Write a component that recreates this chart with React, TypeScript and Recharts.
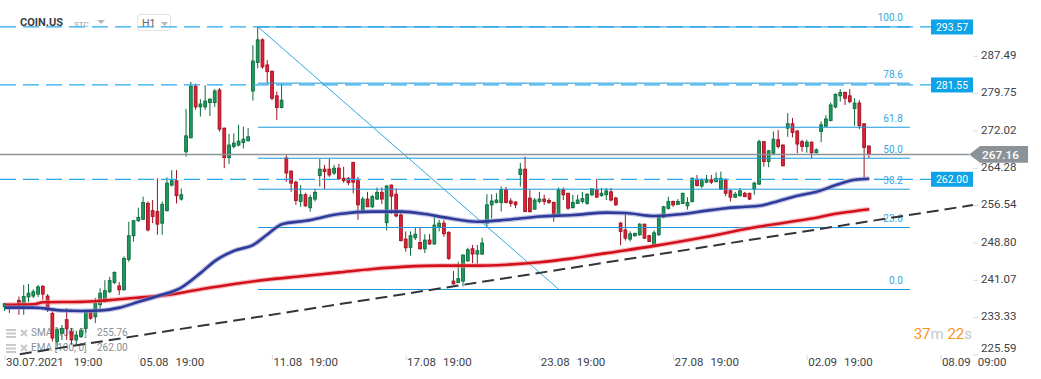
import React from 'react';
import { ComposedChart, Bar, Line, XAxis, YAxis, ReferenceLine } from 'recharts';

/* ── Candles, H1: [open, high, low, close] ─────────── */
const CANDLES: [number, number, number, number][] = [
  [235.6, 236.4, 234.7, 236.2], [236.1, 236.2, 234.3, 235.6], [235.6, 236.3, 235.1, 235.9], [236.9, 237.7, 233.9, 235.6],
  [235.6, 240.1, 233.9, 237.7], [237.6, 240.3, 236.6, 238.4], [237.8, 239.2, 237.4, 238.7], [238.2, 240.1, 237.6, 239.7],
  [239.8, 240.1, 237.0, 238.2], [237.8, 238.2, 234.5, 234.9], [234.2, 234.6, 228.4, 229.1], [228.4, 231.2, 227.3, 230.8],
  [230.1, 231.8, 228.7, 231.1], [232.9, 235.3, 228.7, 231.1], [230.4, 231.2, 227.7, 228.7], [228.7, 230.6, 227.7, 229.7],
  [229.4, 231.2, 229.1, 230.6], [231.1, 234.9, 230.2, 234.6], [234.6, 234.9, 232.9, 233.2], [233.5, 237.4, 232.2, 236.3],
  [236.0, 239.4, 234.6, 238.4], [236.7, 241.1, 236.4, 238.9], [238.7, 241.8, 238.4, 241.0], [240.6, 242.9, 240.3, 242.7],
  [239.9, 240.7, 238.0, 239.1], [239.1, 246.0, 238.9, 245.6], [245.4, 253.2, 244.9, 250.3], [250.3, 253.6, 249.1, 253.4],
  [253.4, 256.1, 253.2, 254.1], [253.7, 258.4, 253.6, 257.2], [257.0, 257.4, 251.2, 251.5], [255.5, 257.7, 252.9, 254.3],
  [255.3, 262.2, 250.5, 252.7], [252.9, 257.4, 250.5, 256.8], [255.5, 262.4, 255.3, 261.2], [260.8, 263.9, 260.5, 261.7],
  [261.7, 263.9, 257.0, 258.6], [257.9, 260.1, 257.6, 258.8], [267.7, 276.6, 266.7, 271.0], [270.6, 282.2, 270.5, 281.3],
  [281.3, 281.8, 276.4, 277.0], [277.0, 278.6, 275.0, 277.6], [277.0, 281.5, 276.4, 278.2], [277.9, 278.8, 275.1, 278.6],
  [277.9, 280.7, 277.0, 280.3], [280.5, 280.9, 271.9, 272.4], [272.6, 272.7, 264.3, 266.5], [266.5, 271.4, 265.2, 269.1],
  [268.8, 271.5, 268.4, 269.5], [269.1, 273.3, 268.8, 269.9], [269.6, 272.9, 268.4, 270.3], [270.0, 272.6, 269.8, 270.8],
  [280.3, 289.8, 278.3, 286.5], [286.2, 293.57, 285.0, 290.9], [290.9, 291.2, 284.9, 285.3], [285.7, 286.7, 281.9, 284.3],
  [284.4, 284.5, 278.4, 278.8], [279.3, 280.2, 274.3, 276.9], [276.9, 281.8, 276.7, 278.4], [266.4, 267.0, 261.5, 263.3],
  [263.7, 263.8, 259.4, 261.2], [261.4, 261.7, 256.7, 257.6], [257.4, 260.8, 256.3, 258.8], [258.8, 259.2, 256.3, 256.5],
  [256.1, 258.8, 255.3, 258.2], [257.9, 260.0, 257.4, 259.3], [262.8, 266.2, 260.5, 264.1], [264.1, 265.0, 260.0, 263.6],
  [264.1, 266.2, 262.5, 262.9], [263.3, 265.0, 262.9, 264.3], [264.3, 265.2, 261.9, 262.1], [262.2, 264.6, 261.3, 261.7],
  [262.2, 262.5, 260.8, 261.3], [265.5, 265.6, 259.1, 261.4], [261.7, 262.5, 253.6, 256.7], [255.6, 258.4, 255.3, 257.9],
  [257.9, 259.4, 256.3, 256.3], [256.3, 258.8, 256.0, 258.4], [257.9, 260.3, 257.7, 259.3], [259.3, 260.3, 256.9, 257.9],
  [253.0, 260.8, 251.4, 260.6], [260.8, 260.9, 254.8, 258.5], [258.9, 260.1, 254.1, 254.4], [254.6, 255.0, 249.1, 249.3],
  [249.6, 251.2, 247.0, 247.8], [247.9, 251.2, 246.2, 250.3], [249.9, 251.9, 249.4, 250.6], [248.9, 251.9, 247.4, 247.6],
  [247.6, 250.6, 246.7, 249.4], [249.4, 250.7, 248.4, 248.6], [248.6, 254.1, 248.4, 252.5], [252.1, 253.6, 251.2, 252.9],
  [252.9, 253.6, 250.1, 250.7], [251.0, 251.2, 245.3, 245.6], [240.9, 243.0, 240.2, 240.3], [240.6, 244.9, 240.5, 241.4],
  [240.9, 246.4, 239.8, 246.3], [245.1, 247.8, 244.9, 247.4], [247.6, 248.4, 244.6, 246.5], [246.5, 248.4, 244.3, 247.2],
  [246.5, 249.9, 246.3, 248.8], [252.9, 258.9, 251.9, 256.7], [256.7, 258.9, 253.9, 257.5], [257.2, 259.1, 257.0, 257.7],
  [257.2, 260.5, 255.3, 259.9], [259.8, 260.4, 257.0, 257.2], [257.5, 258.1, 256.3, 257.0], [257.3, 257.4, 256.0, 256.7],
  [263.0, 265.4, 260.5, 264.1], [264.1, 266.7, 255.2, 255.3], [258.1, 259.8, 255.1, 255.3], [255.8, 258.1, 255.7, 257.7],
  [257.4, 259.4, 257.0, 257.9], [257.9, 258.8, 256.7, 257.4], [257.6, 258.1, 256.9, 257.2], [257.2, 257.4, 253.2, 254.8],
  [254.8, 260.3, 254.4, 259.8], [259.8, 260.3, 257.7, 258.8], [259.1, 259.2, 255.7, 256.0], [256.1, 258.8, 256.0, 257.2],
  [257.0, 258.8, 256.9, 257.7], [257.4, 259.4, 257.0, 258.0], [257.0, 259.1, 256.7, 258.9], [258.8, 260.2, 258.5, 260.0],
  [259.8, 262.1, 258.1, 258.3], [258.6, 260.2, 258.4, 259.1], [258.8, 260.2, 257.7, 259.6], [259.4, 260.2, 257.4, 257.7],
  [258.1, 258.4, 256.5, 256.7], [252.9, 253.2, 248.3, 251.2], [251.5, 255.0, 249.3, 249.8], [249.6, 251.2, 249.1, 250.7],
  [250.3, 250.9, 250.1, 250.8], [250.5, 252.9, 250.3, 252.7], [252.7, 252.8, 249.6, 249.8], [250.3, 250.5, 249.0, 249.1],
  [248.4, 251.4, 248.2, 250.9], [250.5, 254.6, 250.3, 254.1], [254.1, 256.5, 253.9, 256.3], [256.0, 258.4, 255.7, 257.4],
  [257.4, 257.6, 256.3, 256.7], [256.8, 257.9, 256.7, 257.4], [257.0, 259.2, 256.9, 259.1], [256.5, 258.3, 255.7, 257.2],
  [257.4, 262.4, 257.2, 262.2], [262.0, 262.9, 260.5, 260.7], [260.6, 262.2, 260.2, 261.7], [261.4, 262.9, 261.2, 262.0],
  [261.9, 262.9, 261.0, 261.4], [261.5, 263.4, 261.4, 262.2], [260.0, 263.6, 259.8, 262.2], [261.9, 262.2, 258.5, 259.1],
  [259.6, 259.8, 257.4, 258.3], [258.3, 259.4, 258.1, 258.9], [258.6, 260.2, 258.4, 259.6], [259.1, 259.4, 258.3, 258.4],
  [259.1, 259.2, 257.7, 257.9], [260.0, 261.5, 258.8, 261.2], [261.0, 270.2, 260.8, 269.8], [269.8, 269.9, 264.6, 265.7],
  [265.7, 268.1, 264.5, 267.9], [267.4, 271.9, 267.0, 270.3], [270.2, 272.2, 268.4, 268.8], [269.1, 269.2, 264.7, 264.8],
  [272.6, 275.7, 270.8, 273.5], [273.5, 274.7, 270.7, 271.7], [272.0, 272.2, 267.4, 269.3], [269.8, 270.2, 267.7, 268.8],
  [268.8, 270.2, 267.5, 269.7], [269.7, 269.8, 266.4, 267.5], [267.5, 268.4, 267.4, 268.1], [271.9, 274.0, 269.7, 273.3],
  [273.0, 275.3, 272.9, 274.5], [274.2, 277.9, 274.0, 277.4], [277.0, 279.8, 276.7, 279.6], [279.3, 280.7, 278.1, 280.0],
  [280.0, 280.2, 277.4, 278.8], [279.3, 280.7, 277.8, 278.1], [276.7, 278.8, 273.1, 277.8], [277.8, 278.4, 272.4, 273.1],
  [273.5, 273.6, 262.2, 268.6], [268.9, 269.0, 266.4, 267.16],
];

/* ── Moving averages, read at candle index ─────────── */
const EMA_POINTS: [number, number][] = [
  [0, 235.4], [6, 235.4], [12, 234.8], [16, 234.7], [20, 234.8], [24, 235.4], [28, 236.6], [32, 237.8],
  [37, 239.6], [41, 242.6], [44, 245.1], [48, 247.2], [52, 248.4], [55, 250.6], [58, 252.7], [63, 253.4],
  [70, 254.8], [77, 255.3], [83, 255.3], [88, 254.8], [92, 254.1], [99, 253.2], [105, 253.6], [112, 254.3],
  [119, 254.6], [126, 255.1], [130, 255.0], [136, 254.4], [142, 254.8], [147, 255.5], [151, 256.0], [155, 256.3],
  [158, 256.5], [162, 257.5], [166, 258.6], [170, 259.4], [174, 260.8], [178, 261.9], [181, 262.1],
];
const SMA_POINTS: [number, number][] = [
  [0, 236.0], [6, 236.1], [8, 236.5], [16, 236.6], [21, 236.9], [27, 237.4], [34, 238.0], [41, 239.2],
  [48, 240.3], [55, 241.2], [62, 241.9], [70, 242.7], [77, 243.4], [84, 243.9], [91, 244.1], [98, 244.1],
  [105, 244.3], [112, 244.8], [118, 245.5], [126, 246.7], [136, 248.2], [147, 250.1], [158, 252.2], [168, 253.7],
  [175, 255.0], [181, 255.8],
];

/* ── Axes ──────────────────────────────────────────── */
const PRICE_TICKS = [225.59, 233.33, 241.07, 248.8, 256.54, 264.28, 272.02, 279.75, 287.49];
const TIME_TICKS = [0, 28, 56, 84, 112, 140, 168, 196];
const TIME_LABELS = ['30.07.2021 19:00', '05.08 19:00', '11.08 19:00', '17.08 19:00', '23.08 19:00', '27.08 19:00', '02.09 19:00', '08.09 09:00'];

/* ── Drawings ──────────────────────────────────────── */
const FIB_HIGH = 293.57;
const FIB_LOW = 239.16;
const FIB_FROM = 53;
const FIB_TO = 189.5;
const FIB_LEVELS = [0, 23.6, 38.2, 50.0, 61.8, 78.6, 100.0];
const FIB_DIAGONAL_END = 116;
const ALERT_LEVELS = [293.57, 281.55, 262.0];
const LAST_PRICE = 267.16;
const TREND_START = { x: 3.1, y: 225.75 };
const TREND_END = { x: 202.7, y: 256.66 };

const UP = '#1d9a5f';
const UP_EDGE = '#0c6a3b';
const DOWN = '#dd2239';
const DOWN_EDGE = '#a0111f';
const FONT = 'Roboto, "Noto Sans", sans-serif';

const emaMap = new Map(EMA_POINTS);
const smaMap = new Map(SMA_POINTS);
const data = CANDLES.map(([o, h, l, c], i) => ({
  i, o, h, l, c,
  range: [l, h],
  ema: emaMap.has(i) ? emaMap.get(i) : null,
  sma: smaMap.has(i) ? smaMap.get(i) : null,
}));

const Candle = (props: any) => {
  const { x, y, width, height, payload } = props;
  if (!payload || x == null) return null;
  const { o, h, l, c } = payload;
  const top = Math.min(y, y + height);
  const k = Math.abs(height) / (h - l || 1);
  const cx = x + width / 2;
  const yOf = (v: number) => top + (h - v) * k;
  const up = c >= o;
  const bodyTop = yOf(Math.max(o, c));
  const bodyH = Math.max(1, Math.abs(yOf(o) - yOf(c)));
  return (
    <g>
      <line x1={cx} x2={cx} y1={yOf(h)} y2={yOf(l)} stroke={up ? UP_EDGE : DOWN_EDGE} strokeWidth={1} />
      <rect x={cx - 1.4} y={bodyTop} width={2.8} height={bodyH} fill={up ? UP : DOWN} stroke={up ? UP_EDGE : DOWN_EDGE} strokeWidth={0.9} />
    </g>
  );
};

const YTick = ({ x, y, payload }: any) => {
  const last = payload.value === PRICE_TICKS[0];
  return (
    <text x={x} y={y + (last ? -2.7 : 2.8)} fontSize={11.5} fill="#3c4146" fontFamily={FONT} textAnchor="start">
      {payload.value.toFixed(2)}
    </text>
  );
};

const XTick = ({ x, y, payload }: any) => {
  const idx = TIME_TICKS.indexOf(payload.value);
  if (idx < 0) return null;
  const [d, t] = TIME_LABELS[idx].split(' ');
  return (
    <text x={x + 1} y={y + 3.5} fontSize={11.5} fill="#3c4146" fontFamily={FONT}>
      <tspan>{d}</tspan>
      <tspan dx={idx === 0 ? 10 : 7}>{t}</tspan>
    </text>
  );
};

const FibLabel = ({ viewBox, text }: any) => {
  if (!viewBox) return null;
  return (
    <text x={viewBox.x + viewBox.width - 7} y={viewBox.y - 5.5} textAnchor="end" fontSize={10} fill="#36a6de" fontFamily={FONT}>
      {text}
    </text>
  );
};

const PriceBox = ({ viewBox, text }: any) => {
  if (!viewBox) return null;
  const x = viewBox.x + viewBox.width;
  return (
    <g>
      <rect x={x} y={viewBox.y - 7.5} width={42} height={15} fill="#0ea2e6" />
      <text x={x + 21} y={viewBox.y + 3.8} textAnchor="middle" fontSize={10.5} fill="#fff" fontFamily={FONT}>{text}</text>
    </g>
  );
};

const LastTag = ({ viewBox, text }: any) => {
  if (!viewBox) return null;
  const x = viewBox.x + viewBox.width;
  const y = viewBox.y;
  return (
    <g>
      <polygon points={`${x},${y} ${x + 11},${y - 8.3} ${x + 59},${y - 8.3} ${x + 59},${y + 8.3} ${x + 11},${y + 8.3}`} fill="#8b9398" />
      <text x={x + 13} y={y + 4.3} fontSize={11.8} fontWeight={500} fill="#fff" fontFamily={FONT}>{text}</text>
    </g>
  );
};

const Hamburger = ({ top }: { top: number }) => (
  <svg style={{ position: 'absolute', left: 6, top }} width={10} height={9}>
    <rect x={0} y={0} width={10} height={2} fill="#c8cacc" />
    <rect x={0} y={3.5} width={10} height={2} fill="#c8cacc" />
    <rect x={0} y={7} width={10} height={2} fill="#c8cacc" />
  </svg>
);

const Cross = ({ top }: { top: number }) => (
  <svg style={{ position: 'absolute', left: 20, top }} width={8} height={8}>
    <path d="M1 1 L7 7 M7 1 L1 7" stroke="#c8cacc" strokeWidth={2.2} />
  </svg>
);

export default function App() {
  return (
    <div style={{ position: 'absolute', left: 0, top: 0, width: 1041, height: 379, background: '#fff', overflow: 'hidden', fontFamily: FONT }}>
      {/* header */}
      <div style={{ position: 'absolute', left: 20, top: 16, fontSize: 11, fontWeight: 700, color: '#3c4043' }}>COIN.US</div>
      <div style={{ position: 'absolute', left: 74, top: 20, fontSize: 8, color: '#9aa0a6' }}>STC</div>
      <svg style={{ position: 'absolute', left: 97, top: 20 }} width={8} height={5}><polygon points="0,0 8,0 4,4" fill="#b4b8bc" /></svg>
      <div style={{ position: 'absolute', left: 137, top: 14, width: 34, height: 17, border: '1px solid #e1e3e5', borderRadius: 3, boxSizing: 'border-box' }} />
      <div style={{ position: 'absolute', left: 142, top: 17, fontSize: 10.5, color: '#5f6368' }}>H1</div>
      <svg style={{ position: 'absolute', left: 161, top: 22 }} width={8} height={5}><polygon points="0,0 7,0 3.5,4" fill="#b4b8bc" /></svg>

      {/* indicator legend */}
      <Hamburger top={329} />
      <Cross top={329} />
      <div style={{ position: 'absolute', left: 31, top: 327, fontSize: 10, color: '#8a8f94', whiteSpace: 'pre' }}>SMA [100, 0]</div>
      <div style={{ position: 'absolute', left: 97, top: 327, fontSize: 10, color: '#8a8f94' }}>255.76</div>
      <Hamburger top={344} />
      <Cross top={344} />
      <div style={{ position: 'absolute', left: 31, top: 342, fontSize: 10, color: '#8a8f94', whiteSpace: 'pre' }}>EMA [100, 0]</div>
      <div style={{ position: 'absolute', left: 97, top: 342, fontSize: 10, color: '#8a8f94' }}>262.00</div>

      {/* candle timer */}
      <div style={{ position: 'absolute', right: 69, top: 325, fontSize: 15, whiteSpace: 'pre' }}>
        <span style={{ color: '#f7931e' }}>37</span><span style={{ color: '#c3c7cb' }}>m </span>
        <span style={{ color: '#f7931e' }}>22</span><span style={{ color: '#c3c7cb' }}>s</span>
      </div>

      <div style={{ position: 'absolute', left: 0, top: 0 }}>
        <ComposedChart width={1041} height={379} data={data} margin={{ top: 0, right: 0, bottom: 0, left: 0 }}>
          <XAxis
            type="number"
            dataKey="i"
            domain={[-1.047, 202.72]}
            allowDataOverflow
            ticks={TIME_TICKS}
            tick={<XTick />}
            tickSize={5}
            tickMargin={2}
            tickLine={{ stroke: '#d8dadc' }}
            axisLine={false}
            height={24}
            interval={0}
          />
          <YAxis
            orientation="right"
            domain={[225.58, 299.16]}
            allowDataOverflow
            ticks={PRICE_TICKS}
            tick={<YTick />}
            tickSize={5}
            tickMargin={3}
            tickLine={{ stroke: '#d8dadc' }}
            axisLine={false}
            width={68}
            interval={0}
          />

          {ALERT_LEVELS.map((p) => (
            <ReferenceLine
              key={'a' + p}
              segment={[{ x: -1.05, y: p }, { x: 193.93, y: p }]}
              stroke="#2aaaf0"
              strokeWidth={1.3}
              strokeDasharray="16 7"
              ifOverflow="visible"
              label={<PriceBox text={p.toFixed(2)} />}
            />
          ))}

          {FIB_LEVELS.map((lvl) => {
            const p = FIB_LOW + (FIB_HIGH - FIB_LOW) * lvl / 100;
            return (
              <ReferenceLine
                key={'f' + lvl}
                segment={[{ x: FIB_FROM, y: p }, { x: FIB_TO, y: p }]}
                stroke="#1797da"
                strokeWidth={1}
                ifOverflow="visible"
                label={<FibLabel text={lvl.toFixed(1)} />}
              />
            );
          })}
          <ReferenceLine
            segment={[{ x: FIB_FROM, y: FIB_HIGH }, { x: FIB_DIAGONAL_END, y: FIB_LOW }]}
            stroke="#30a8e6"
            strokeWidth={1}
            ifOverflow="visible"
          />

          <ReferenceLine
            segment={[{ x: -1.05, y: LAST_PRICE }, { x: 201.9, y: LAST_PRICE }]}
            stroke="#8b9398"
            strokeWidth={1.5}
            ifOverflow="visible"
            label={<LastTag text={LAST_PRICE.toFixed(2)} />}
          />

          <ReferenceLine
            segment={[TREND_START, TREND_END]}
            stroke="#30363b"
            strokeWidth={2}
            strokeDasharray="12 6"
            ifOverflow="visible"
          />

          <Bar dataKey="range" barSize={4} shape={<Candle />} activeBar={false} isAnimationActive={false} />

          <Line dataKey="sma" type="monotone" connectNulls dot={false} activeDot={false} stroke="#f08a8f" strokeOpacity={0.55} strokeWidth={5} isAnimationActive={false} />
          <Line dataKey="sma" type="monotone" connectNulls dot={false} activeDot={false} stroke="#d3111d" strokeWidth={2.6} isAnimationActive={false} />
          <Line dataKey="ema" type="monotone" connectNulls dot={false} activeDot={false} stroke="#8d93cf" strokeOpacity={0.55} strokeWidth={5} isAnimationActive={false} />
          <Line dataKey="ema" type="monotone" connectNulls dot={false} activeDot={false} stroke="#2e3b98" strokeWidth={2.6} isAnimationActive={false} />
        </ComposedChart>
      </div>
    </div>
  );
}
